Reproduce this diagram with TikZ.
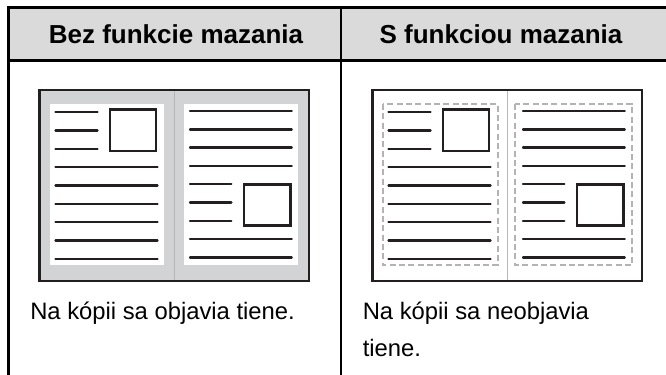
\documentclass[tikz,border=0pt]{standalone}
\usepackage{fontspec}
\setmainfont{Liberation Sans}
\usetikzlibrary{positioning}
\definecolor{headgray}{HTML}{DADADA}
\definecolor{pagegray}{HTML}{D1D3D4}
\definecolor{ink}{HTML}{231F20}
\definecolor{dashgray}{HTML}{B3B3B3}
\definecolor{foldgray}{HTML}{B4B6B8}
\tikzset{
  rule/.style={line width=2pt, black},
  headtext/.style={font=\fontsize{19.5}{23}\selectfont\bfseries, inner sep=0pt},
  captext/.style={font=\fontsize{17.85}{27.75}\selectfont, anchor=base west, align=left, inner sep=0pt},
  bookframe/.style={line width=1.6pt, draw=ink},
  fold/.style={line width=0.6pt, foldgray},
  txtline/.style={line width=1.8pt, ink, line cap=round},
  picbox/.style={line width=1.8pt, draw=ink, fill=white},
  cropline/.style={line width=1.5pt, dashgray, dash pattern=on 4.5pt off 2.5pt, fill=white}
}
% contents of both pages of an open book, book origin at top left
\newcommand{\bookpages}{%
  % left page
  \foreach \k in {0,1,2}
    \draw[txtline] (16,{22.3+18.3*\k}) -- (58,{22.3+18.3*\k});
  \foreach \k in {3,...,8}
    \draw[txtline] (16,{22.3+18.3*\k}) -- (118,{22.3+18.3*\k});
  \draw[picbox] (70.5,19.7) rectangle (116.5,61);
  % right page
  \foreach \k in {0,1,2,3,7,8}
    \draw[txtline] (150.5,{21+18.3*\k}) -- (252.2,{21+18.3*\k});
  \foreach \k in {4,5,6}
    \draw[txtline] (150.5,{21+18.3*\k}) -- (191.8,{21+18.3*\k});
  \draw[picbox] (204.5,94.3) rectangle (250.8,135.3);
}

\begin{document}
\begin{tikzpicture}[x=0.75pt,y=-0.75pt]
  \useasboundingbox (0,0) rectangle (666,374);
  \clip (0,0) rectangle (666,374);
  % table
  \fill[headgray] (8.7,7.5) rectangle (672,60.7);
  \draw[rule] (672,7.5) -- (8.7,7.5) -- (8.7,380);
  \draw[rule] (8.7,60.7) -- (672,60.7);
  \draw[rule] (341,7.5) -- (341,380);
  \node[headtext] (hdA) at (176,34) {Bez funkcie mazania};
  \node[headtext] (hdB) at (501,34) {S funkciou mazania};

  % without erase
  \begin{scope}[shift={(39.5,90)}]
    \fill[pagegray] (0,0) rectangle (269.4,191);
    \draw[fold] (135,0) -- (135,191);
    \draw[bookframe] (0,0) rectangle (269.4,191);
    \fill[white] (10.5,14) rectangle (124.5,175);
    \fill[white] (144.5,14) rectangle (258.5,175);
    \bookpages
  \end{scope}

  % with erase
  \begin{scope}[shift={(372.5,90)}]
    \fill[white] (0,0) rectangle (269.4,191);
    \draw[fold] (135,0) -- (135,191);
    \draw[bookframe] (0,0) rectangle (269.4,191);
    \draw[cropline] (10,14) rectangle (125,175);
    \draw[cropline] (142.7,14) rectangle (259.4,175);
    \bookpages
  \end{scope}

  \node[captext] (capA) at (30,319) {Na kópii sa objavia tiene.};
  \node[captext] (capB) at (362.5,356) {Na kópii sa neobjavia\\tiene.};
\end{tikzpicture}
\end{document}
